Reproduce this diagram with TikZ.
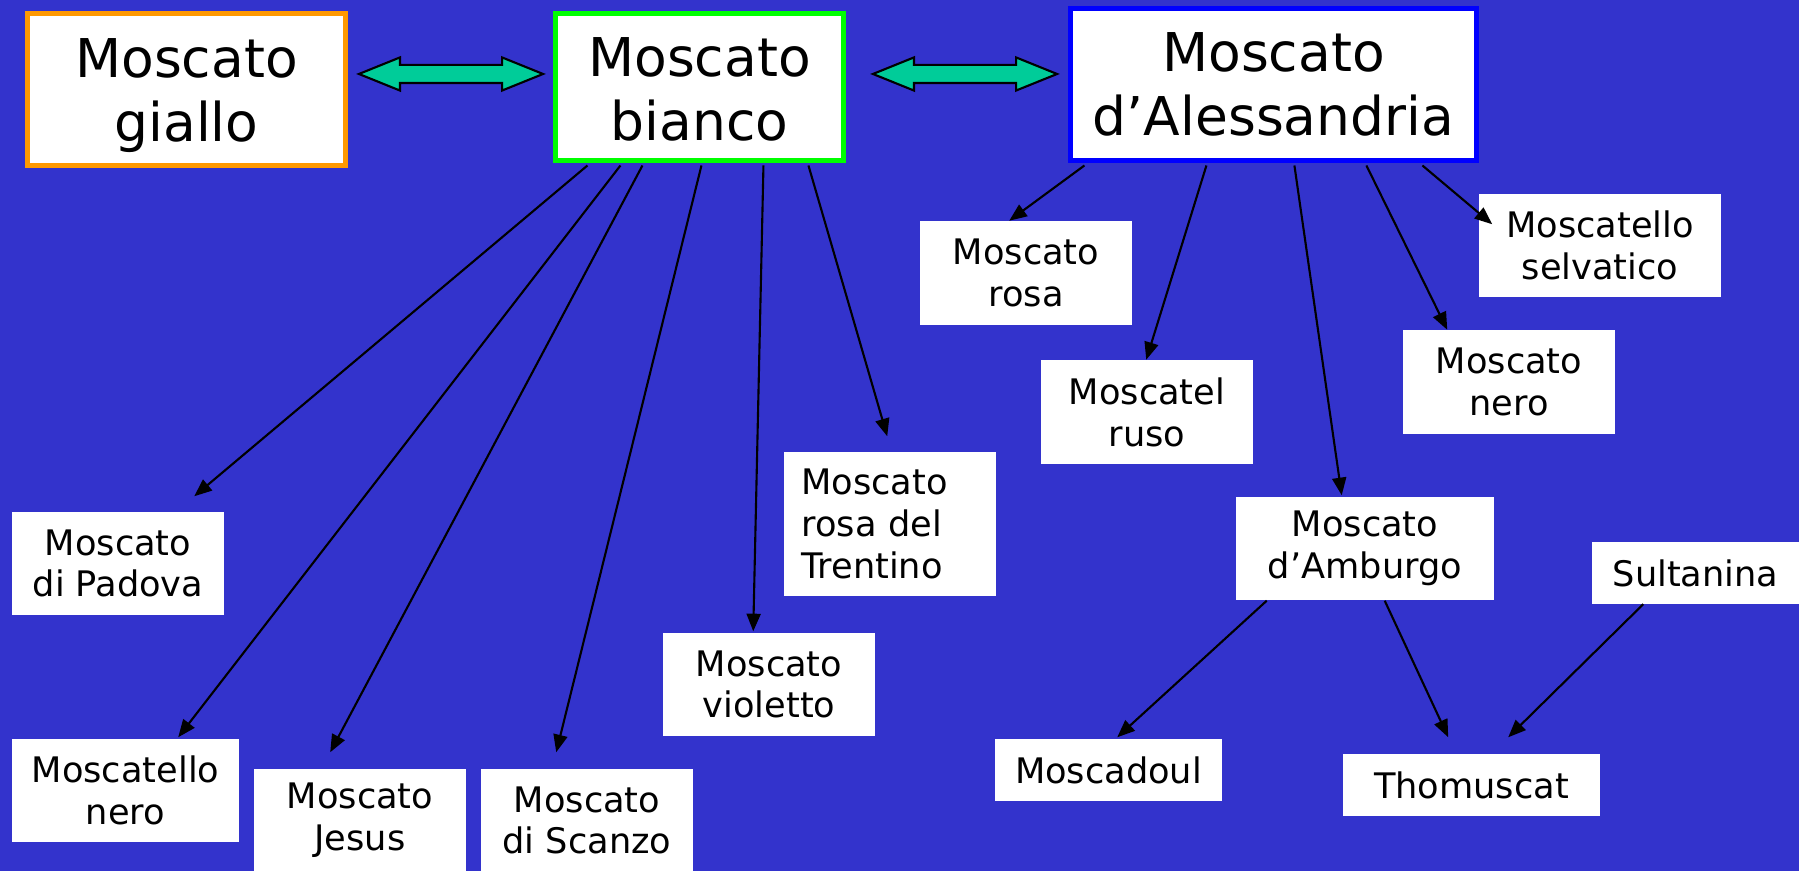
\documentclass[tikz,border=0pt]{standalone}
\usepackage{fontspec}
\setmainfont{DejaVu Sans}
\usetikzlibrary{arrows.meta,calc,shapes.arrows}

\definecolor{bgblue}{HTML}{3333CC}
\definecolor{fatgreen}{HTML}{00CC99}
\definecolor{boxorange}{HTML}{FF9900}
\definecolor{boxgreen}{HTML}{00FF00}
\definecolor{boxblue}{HTML}{0000FF}

\tikzset{
	bigbox/.style={draw, line width=1.4pt, fill=white, inner sep=0pt, align=center, font=\fontsize{15.2pt}{18.2pt}\selectfont},
	smallbox/.style={fill=white, inner sep=0pt, minimum height=1.03cm, align=center, font=\fontsize{10pt}{11.9pt}\selectfont},
	link/.style={-{Triangle[length=5pt, width=4pt]}, line width=0.6pt, black},
	fat/.style={double arrow, draw=black, fill=fatgreen, line width=0.6pt, inner xsep=0pt, inner ysep=0.08cm, double arrow tip angle=44, double arrow head extend=0.075cm, minimum height=1.84cm}
}

\begin{document}
\begin{tikzpicture}[x=0.01cm, y=-0.01cm]
		\useasboundingbox (0, 0) rectangle (1799, 871);
		\fill[bgblue] (0, 0) rectangle (1799, 871);

		\node[bigbox, draw=boxorange, minimum width=3.18cm, minimum height=1.52cm] (giallo) at (186.5, 89.5) {\rule{0pt}{14.3pt}Moscato\\giallo};
		\node[bigbox, draw=boxgreen, minimum width=2.88cm, minimum height=1.47cm] (bianco) at (699.5, 87) {\rule{0pt}{12.4pt}Moscato\\bianco};
		\node[bigbox, draw=boxblue, minimum width=4.06cm, minimum height=1.52cm] (alessandria) at (1273.5, 84.5) {Moscato\\d’Alessandria};

		\node[fat] (giallobianco) at (451, 74) {};
		\node[fat] (biancoalessandria) at (965, 74) {};

		\node[smallbox, minimum width=2.12cm] (padova) at (118, 563.5) {Moscato\\di Padova};
		\node[smallbox, minimum width=2.27cm] (moscatellonero) at (125.5, 790.5) {Moscatello\\nero};
		\node[smallbox, minimum width=2.12cm] (jesus) at (360, 820.5) {Moscato\\Jesus};
		\node[smallbox, minimum width=2.12cm] (scanzo) at (587, 820.5) {Moscato\\di Scanzo};
		\node[smallbox, minimum width=2.12cm] (violetto) at (769, 684.5) {Moscato\\violetto};
		\node[smallbox, align=left, text width=1.77cm, inner xsep=0.175cm, minimum height=1.44cm] (trentino) at (890, 524) {Moscato\\rosa del\\Trentino};

		\node[smallbox, minimum width=2.12cm] (rosa) at (1026, 273) {Moscato\\rosa};
		\node[smallbox, minimum width=2.12cm] (ruso) at (1147, 412) {Moscatel\\ruso};
		\node[smallbox, minimum width=2.42cm] (selvatico) at (1600, 245.5) {Moscatello\\selvatico};
		\node[smallbox, minimum width=2.12cm] (nero) at (1509, 382) {Moscato\\nero};
		\node[smallbox, minimum width=2.57cm] (amburgo) at (1365, 548.5) {Moscato\\d’Amburgo};
		\node[smallbox, minimum width=2.07cm, minimum height=0.61cm] (sultanina) at (1695.5, 573) {Sultanina};
		\node[smallbox, minimum width=2.27cm, minimum height=0.62cm] (moscadoul) at (1108.5, 770) {Moscadoul};
		\node[smallbox, minimum width=2.57cm, minimum height=0.62cm] (thomuscat) at (1471.5, 785) {Thomuscat};

		\draw[link] ($(bianco.south west)+(34.5, 2.5)$) to ($(padova.north west)+(183, -15)$);
		\draw[link] ($(bianco.south west)+(67.5, 2.5)$) to ($(moscatellonero.north west)+(167, -1)$);
		\draw[link] ($(bianco.south west)+(89.5, 2.5)$) to ($(jesus.north west)+(77, -16)$);
		\draw[link] ($(bianco.south west)+(148.5, 2.5)$) to ($(scanzo.north west)+(76, -16)$);
		\draw[link] ($(bianco.south west)+(210.5, 2.5)$) to ($(violetto.north west)+(91, -1)$);
		\draw[link] ($(bianco.south west)+(255.5, 2.5)$) to ($(trentino.north west)+(104, -15)$);

		\draw[link] ($(alessandria.south west)+(16.5, 2.5)$) to ($(rosa.north west)+(90, 0)$);
		\draw[link] ($(alessandria.south west)+(138.5, 2.5)$) to ($(ruso.north west)+(106, 0)$);
		\draw[link] ($(alessandria.south west)+(226.5, 2.5)$) to ($(amburgo.north west)+(106, -1)$);
		\draw[link] ($(alessandria.south west)+(298.5, 2.5)$) to ($(nero.north west)+(45, 0)$);
		\draw[link] ($(alessandria.south west)+(354.5, 2.5)$) to ($(selvatico.north west)+(14, 31)$);

		\draw[link] ($(amburgo.south west)+(31, 0)$) to ($(moscadoul.north west)+(123, -1)$);
		\draw[link] ($(amburgo.south west)+(149, 0)$) to ($(thomuscat.north west)+(106, -16)$);
		\draw[link] ($(sultanina.south west)+(52, 0)$) to ($(thomuscat.north west)+(166, -16)$);
	\end{tikzpicture}
\end{document}
